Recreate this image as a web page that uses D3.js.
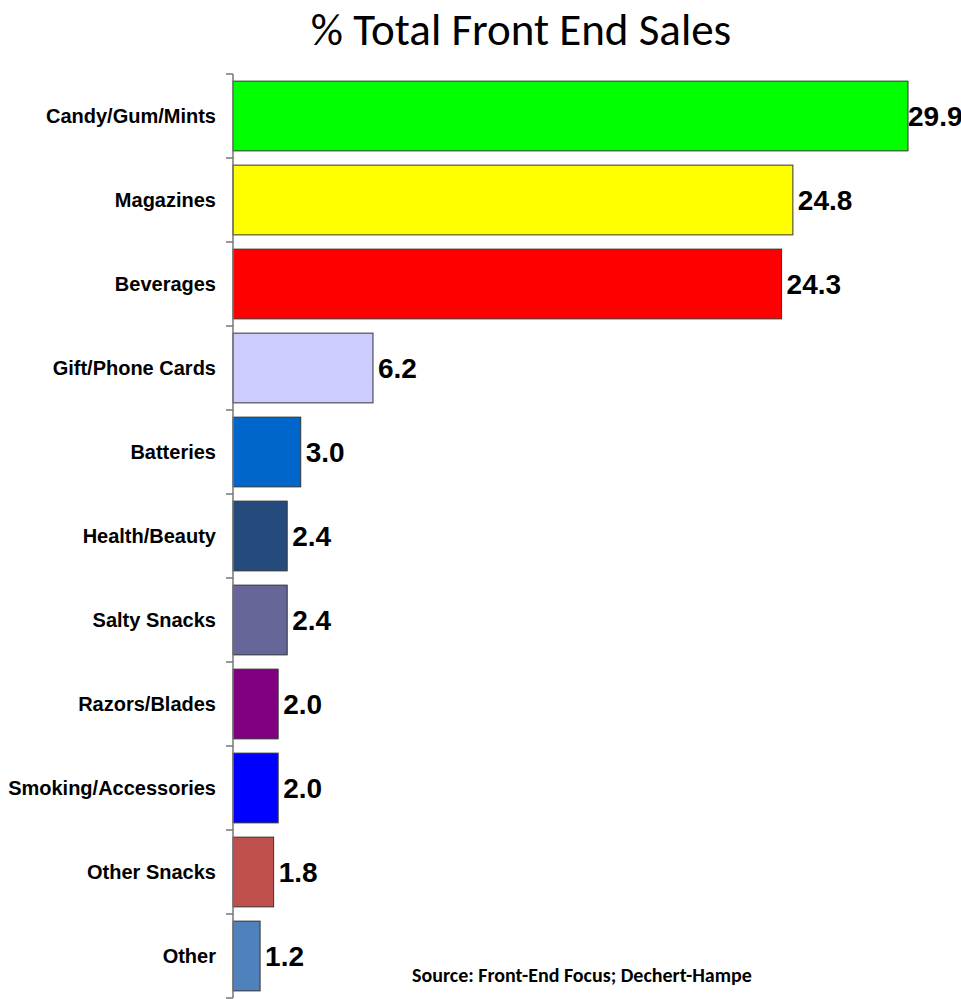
<!DOCTYPE html>
<html><head><meta charset="utf-8">
<script src="https://cdn.jsdelivr.net/npm/d3@7"></script>
<style>body{margin:0;background:#fff}</style>
</head><body>
<script>
const categories = ["Candy/Gum/Mints","Magazines","Beverages","Gift/Phone Cards","Batteries","Health/Beauty","Salty Snacks","Razors/Blades","Smoking/Accessories","Other Snacks","Other"];
const values = [29.9,24.8,24.3,6.2,3.0,2.4,2.4,2.0,2.0,1.8,1.2];
const colors = ["#00ff00","#ffff00","#ff0000","#ccccff","#0066cc","#254a7c","#666699","#800080","#0000ff","#c0504d","#4f81bd"];
const title = "% Total Front End Sales";
const source = "Source: Front-End Focus; Dechert-Hampe";

const W = 961, H = 999;
const svg = d3.select("body").append("svg").attr("width", W).attr("height", H);

const x = d3.scaleLinear().domain([0, 29.9]).range([233, 908]);
const y = d3.scaleBand().domain(categories).range([74, 998]).paddingInner(0.17).paddingOuter(0.085);

svg.append("text").attr("x", 521).attr("y", 45).attr("text-anchor", "middle")
  .style("font-family", "Carlito, Lato, 'Open Sans', sans-serif").style("font-size", "45px").text(title);

svg.selectAll("rect.bar").data(values).join("rect").attr("class","bar")
  .attr("x", x(0)).attr("y", (d,i) => y(categories[i]))
  .attr("width", d => x(d) - x(0)).attr("height", y.bandwidth())
  .attr("fill", (d,i) => colors[i]).attr("stroke", "#333").attr("stroke-width", 1);

// axis
const step = y.step();
const axisG = svg.append("g");
axisG.append("line").attr("x1", 233).attr("x2", 233).attr("y1", 74).attr("y2", 998).attr("stroke", "#777").attr("stroke-width", 1.5);
const tickYs = d3.range(categories.length + 1).map(i => 74 + i * step);
axisG.selectAll("line.tick").data(tickYs).join("line").attr("class","tick")
  .attr("x1", 226).attr("x2", 233).attr("y1", d => d).attr("y2", d => d).attr("stroke", "#777").attr("stroke-width", 1.5);

svg.selectAll("text.cat").data(categories).join("text").attr("class","cat")
  .attr("x", 216).attr("y", d => y(d) + y.bandwidth()/2 + 7).attr("text-anchor", "end")
  .style("font-family", "'Liberation Sans', Arial, sans-serif").style("font-weight", "bold").style("font-size", "20px")
  .text(d => d);

svg.selectAll("text.val").data(values).join("text").attr("class","val")
  .attr("x", d => x(d) + (d > 29 ? 0 : 5)).attr("y", (d,i) => y(categories[i]) + y.bandwidth()/2 + 10)
  .style("font-family", "'Liberation Sans', Arial, sans-serif").style("font-weight", "bold").style("font-size", "28px")
  .text(d => d.toFixed(1));

svg.append("text").attr("x", 412).attr("y", 982)
  .style("font-family", "Carlito, Lato, 'Open Sans', sans-serif").style("font-weight", "bold").style("font-size", "20px")
  .text(source);
</script>
</body></html>
